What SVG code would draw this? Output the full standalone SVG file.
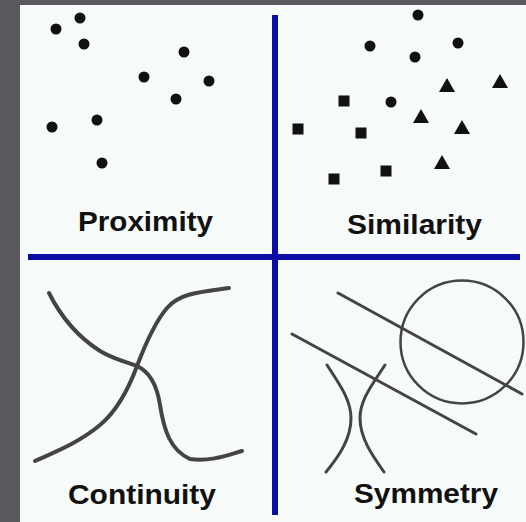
<svg xmlns="http://www.w3.org/2000/svg" width="526" height="522" viewBox="0 0 526 522">
  <style>
    .lbl { font-family: "Liberation Sans", Arial, sans-serif; font-weight: bold; font-size: 28px; fill: #111; text-anchor: middle; }
    .dot { fill: #111; }
    .axis { stroke: #0c0ca6; stroke-width: 6; fill: none; }
    .curve { stroke: #444; stroke-width: 4; fill: none; stroke-linecap: round; stroke-linejoin: round; }
    .thin { stroke: #444; stroke-width: 3; fill: none; stroke-linecap: round; }
  </style>
  <defs>
    <circle id="c" r="5.5" class="dot"/>
    <rect id="s" x="-5.5" y="-5.5" width="11" height="11" class="dot"/>
    <polygon id="t" points="0,-8 8,6 -8,6" class="dot"/>
  </defs>
  <rect x="0" y="0" width="526" height="522" fill="#5b5960"/>
  <rect x="20" y="5" width="506" height="517" fill="#f6faf8"/>

  <g id="axes">
    <line class="axis" x1="275" y1="15" x2="275" y2="515"/>
    <line class="axis" x1="28" y1="257" x2="520" y2="257"/>
  </g>

  <g id="proximity">
    <use href="#c" x="56" y="29"/>
    <use href="#c" x="80" y="18"/>
    <use href="#c" x="84" y="44"/>
    <use href="#c" x="184" y="52"/>
    <use href="#c" x="144" y="77"/>
    <use href="#c" x="209" y="81"/>
    <use href="#c" x="176" y="99"/>
    <use href="#c" x="52" y="127"/>
    <use href="#c" x="97" y="120"/>
    <use href="#c" x="102" y="163"/>
    <text class="lbl" x="145.5" y="231" textLength="135" lengthAdjust="spacingAndGlyphs">Proximity</text>
  </g>

  <g id="similarity">
    <use href="#c" x="418" y="15"/>
    <use href="#c" x="370" y="46"/>
    <use href="#c" x="458" y="43"/>
    <use href="#c" x="415" y="57"/>
    <use href="#c" x="391" y="102"/>
    <use href="#s" x="344" y="101"/>
    <use href="#s" x="298" y="129"/>
    <use href="#s" x="361" y="133"/>
    <use href="#s" x="334" y="179"/>
    <use href="#s" x="386" y="171"/>
    <use href="#t" x="447" y="86"/>
    <use href="#t" x="500" y="82"/>
    <use href="#t" x="421" y="117"/>
    <use href="#t" x="462" y="128"/>
    <use href="#t" x="442" y="163"/>
    <text class="lbl" x="414.5" y="234" textLength="135" lengthAdjust="spacingAndGlyphs">Similarity</text>
  </g>

  <g id="continuity">
    <path class="curve" d="M49,293 C60,315 75,335 100,351 C115,360 130,363 137,366 C150,372 157,385 160,405 C164,430 170,450 190,459 C210,462 228,455 242,451"/>
    <path class="curve" d="M35,461 C55,452 80,442 100,425 C118,410 130,385 137,366 C145,345 155,322 167,308 C180,293 200,292 229,288"/>
    <text class="lbl" x="142" y="504" textLength="148" lengthAdjust="spacingAndGlyphs">Continuity</text>
  </g>

  <g id="symmetry">
    <circle cx="462" cy="342" r="61.5" stroke="#444" stroke-width="2.5" fill="none"/>
    <line class="thin" x1="338" y1="293" x2="522" y2="394"/>
    <line class="thin" x1="292" y1="334" x2="476" y2="434"/>
    <path class="thin" d="M327,365 C340,385 351,400 351,418 C351,438 340,455 326,472"/>
    <path class="thin" d="M385,365 C372,385 360,400 360,418 C360,438 372,455 384,472"/>
    <text class="lbl" x="426" y="503" textLength="144" lengthAdjust="spacingAndGlyphs">Symmetry</text>
  </g>
</svg>
